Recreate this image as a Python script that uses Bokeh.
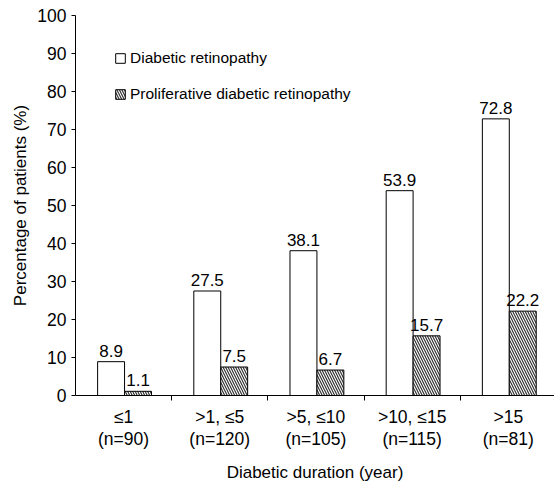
from bokeh.plotting import figure
from bokeh.models import (Range1d, FixedTicker, Legend, LegendItem,
                          ColumnDataSource, LinearAxis)
from bokeh.embed import file_html
from bokeh.resources import INLINE
from bokeh.core.properties import value

# ---- data ----
categories = ["≤1", ">1, ≤5", ">5, ≤10", ">10, ≤15", ">15"]
n_values = ["90", "120", "105", "115", "81"]
dr_values = [8.9, 27.5, 38.1, 53.9, 72.8]
pdr_values = [1.1, 7.5, 6.7, 15.7, 22.2]
series_names = ["Diabetic retinopathy", "Proliferative diabetic retinopathy"]
y_ticks = [0, 10, 20, 30, 40, 50, 60, 70, 80, 90, 100]

FONT = "Liberation Sans"
FS = "17.5px"
idx = list(range(len(categories)))
x_dr = [i + 0.37 for i in idx]
x_pdr = [i + 0.65 for i in idx]

p = figure(width=554, height=485, output_backend="svg", toolbar_location=None,
           x_range=Range1d(0, 4.98), y_range=Range1d(0, 100),
           min_border_left=75, min_border_right=0, min_border_top=15,
           min_border_bottom=90)
p.outline_line_color = None
p.xgrid.visible = False
p.ygrid.visible = False
p.background_fill_color = "white"
p.border_fill_color = "white"

src_dr = ColumnDataSource(dict(x=x_dr, top=dr_values,
                               lbl=[f"{v:.1f}" for v in dr_values]))
src_pdr = ColumnDataSource(dict(x=x_pdr, top=pdr_values,
                                lbl=[f"{v:.1f}" for v in pdr_values]))

r1 = p.vbar(x="x", top="top", width=0.28, bottom=0, source=src_dr,
            fill_color="white", line_color="black", line_width=1)
r2 = p.vbar(x="x", top="top", width=0.28, bottom=0, source=src_pdr,
            fill_color="white", line_color="black", line_width=1,
            hatch_pattern="\\", hatch_color="#333333", hatch_scale=5,
            hatch_weight=1.2)

for src in (src_dr, src_pdr):
    p.text(x="x", y="top", text="lbl", source=src, text_align="center",
           text_baseline="bottom", y_offset=-5, text_color="black",
           text_font=value(FONT), text_font_size="17px")

# y axis
p.yaxis.ticker = FixedTicker(ticks=y_ticks)
p.yaxis.axis_label = "Percentage of patients (%)"
p.yaxis.axis_label_text_font = FONT
p.yaxis.axis_label_text_font_size = "17px"
p.yaxis.axis_label_text_font_style = "normal"
p.yaxis.axis_label_text_color = "black"
p.yaxis.axis_label_standoff = 4
p.yaxis.major_label_text_font = FONT
p.yaxis.major_label_text_font_size = FS
p.yaxis.major_label_text_color = "black"
p.yaxis.major_label_standoff = 5
p.yaxis.major_tick_out = 4
p.yaxis.major_tick_in = 0
p.yaxis.minor_tick_out = 0
p.yaxis.minor_tick_in = 0
p.yaxis.axis_line_color = "black"
p.yaxis.major_tick_line_color = "black"

# x axis: boundary ticks only
xa = p.xaxis[0]
xa.ticker = FixedTicker(ticks=[1, 2, 3, 4])
xa.major_label_overrides = {1: "", 2: "", 3: "", 4: ""}
xa.major_label_text_font_size = "0px"
xa.major_label_standoff = 0
xa.major_tick_out = 5
xa.major_tick_in = 0
xa.minor_tick_out = 0
xa.minor_tick_in = 0
xa.axis_line_color = "black"
xa.major_tick_line_color = "black"

# category labels axis
centers = [i + 0.5 for i in idx]
cat_axis = LinearAxis(
    ticker=FixedTicker(ticks=centers),
    major_label_overrides={c: f"{cat}\n(n={nv})"
                           for c, cat, nv in zip(centers, categories, n_values)},
    axis_line_color=None, major_tick_line_color=None, minor_tick_line_color=None,
    major_tick_out=0, major_tick_in=0, minor_tick_out=0, minor_tick_in=0,
    major_label_standoff=6, major_label_text_font=FONT,
    major_label_text_font_size=FS, major_label_text_color="black",
    major_label_text_line_height=1.1,
    axis_label="Diabetic duration (year)", axis_label_text_font=FONT,
    axis_label_text_font_size="17px", axis_label_text_font_style="normal",
    axis_label_text_color="black", axis_label_standoff=11,
    axis_label_text_line_height=1.0)
p.add_layout(cat_axis, "below")

legend = Legend(items=[LegendItem(label=series_names[0], renderers=[r1]),
                       LegendItem(label=series_names[1], renderers=[r2])],
                location=(39, 292), padding=0, margin=0,
                border_line_alpha=0, background_fill_alpha=0,
                glyph_width=12, glyph_height=12, label_height=12,
                label_standoff=4, spacing=18,
                label_text_font=FONT, label_text_font_size="15.5px",
                label_text_color="black")
p.add_layout(legend, "center")

open("out.html", "w").write(file_html(p, INLINE))
